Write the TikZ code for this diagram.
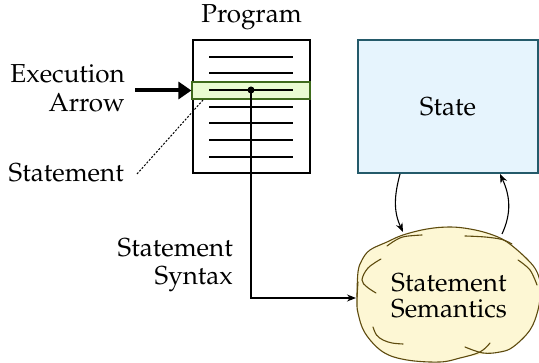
\documentclass[tikz,border=0pt]{standalone}
\usepackage[T1]{fontenc}
\usepackage{mathpazo}
\usetikzlibrary{arrows.meta}

\definecolor{stateFill}{HTML}{E6F4FD}
\definecolor{stateLine}{HTML}{245A6A}
\definecolor{hlFill}{HTML}{E9FBD2}
\definecolor{hlLine}{HTML}{3E6A1C}
\definecolor{cloudFill}{HTML}{FDF7D4}
\definecolor{cloudLine}{HTML}{5E4B0E}

\tikzset{
  txt/.style={inner sep=0pt},
  progbox/.style={draw=black, line width=1.2pt, fill=white, inner sep=0pt},
  hlbox/.style={draw=hlLine, line width=1.2pt, fill=hlFill, inner sep=0pt},
  statebox/.style={draw=stateLine, line width=1.3pt, fill=stateFill},
  listline/.style={line width=1.2pt},
  cloudstroke/.style={draw=cloudLine, line width=1.1pt, line cap=round},
  arr/.style={line width=1.1pt, -{Stealth[length=9pt,width=7pt]}},
  bigarrow/.style={line width=4pt, -{Triangle[length=13pt,width=17pt]}},
  dotline/.style={line width=1pt, dash pattern=on 2pt off 1.6pt},
}

\begin{document}
\begin{tikzpicture}[x=1pt, y=1pt, font=\fontsize{26}{29}\selectfont]
\useasboundingbox (0,0) rectangle (539,363);

% ---- program listing ----
\node[progbox, minimum width=117pt, minimum height=133pt] (prog) at (251.5,256.5) {};
\node[txt, anchor=base] (progtitle) at (251.5,340) {Program};
\node[hlbox, minimum width=118pt, minimum height=17pt] (hl) at (251,272.5) {};
\foreach \y in {306,290,273,256,240,223,206}
  \draw[listline] (209,\y) -- (293,\y);
\coordinate (dot) at (251,273);
\fill (dot) circle (3.5pt);

% ---- execution arrow and statement labels ----
\node[txt, anchor=base east] (ex1) at (125,280) {Execution};
\node[txt, anchor=base east] (ex2) at (125,251) {Arrow};
\coordinate (exs) at (135,272.5);
\draw[bigarrow] (exs) -- (hl.west);

\node[txt, anchor=base east] (stmt) at (124,181) {Statement};
\coordinate (dl1) at (137,189);
\coordinate (dl2) at (203,263);
\draw[dotline] (dl1) -- (dl2);

% ---- state ----
\node[statebox, minimum width=180pt, minimum height=133pt] (state) at (448,256.5) {State};

% ---- statement semantics cloud (drawn top-down, y grows downwards) ----
\begin{scope}[yshift=363pt, y=-1pt]
  \fill[cloudFill] plot[smooth cycle, tension=0.6] coordinates {
    (357,292) (362,260) (387,242) (427,229) (450,227) (490,234) (527,259)
    (540,290) (535,320) (513,347) (483,354) (460,358) (440,362) (407,360)
    (383,352) (365,333) (358,313)};
  % outer strokes
  \draw[cloudstroke] plot[smooth, tension=0.6] coordinates {
    (357,297) (358,272) (362,260) (370,250) (387,242) (403,235) (427,229)
    (450,227) (470,229) (490,234) (507,242) (527,259) (537,272) (542,290)};
  \draw[cloudstroke] plot[smooth, tension=0.6] coordinates {
    (358,282) (357,300) (358,313) (365,333) (383,352) (407,360) (440,362)
    (460,358) (480,352) (490,343)};
  \draw[cloudstroke] plot[smooth, tension=0.6] coordinates {
    (465,347) (483,353) (500,352) (513,347) (530,330) (538,310) (541,290)};
  % inner strokes
  \draw[cloudstroke] plot[smooth, tension=0.6] coordinates {
    (381,259) (368,268) (362,280) (367,287) (376,293)};
  \draw[cloudstroke] plot[smooth, tension=0.6] coordinates {
    (387,246) (396,240) (405,236.5) (422,235)};
  \draw[cloudstroke] plot[smooth, tension=0.6] coordinates {
    (465,236) (485,237) (502,239.5) (512,244)};
  \draw[cloudstroke] plot[smooth, tension=0.6] coordinates {
    (518,260) (530,270) (537,285)};
  \draw[cloudstroke] plot[smooth, tension=0.6] coordinates {
    (373,327) (376.5,335) (383,340) (392,343) (403,344)};
\end{scope}
\node[txt, anchor=base] (sem1) at (449,71) {Statement};
\node[txt, anchor=base] (sem2) at (449,45) {Semantics};

% ---- syntax connector ----
\node[txt, anchor=base east] (syn1) at (233,106) {Statement};
\node[txt, anchor=base east] (syn2) at (233,78) {Syntax};
\coordinate (semin) at (356,65);
\draw[arr] (dot) |- (semin);

% ---- state <-> semantics ----
\coordinate (s1) at (400,189);
\coordinate (c1) at (403,131);
\coordinate (c2) at (502,129);
\coordinate (s2) at (500,189);
\draw[arr] (s1) to[out=255, in=115] (c1);
\draw[arr] (c2) to[out=65, in=-65] (s2);
\end{tikzpicture}
\end{document}
